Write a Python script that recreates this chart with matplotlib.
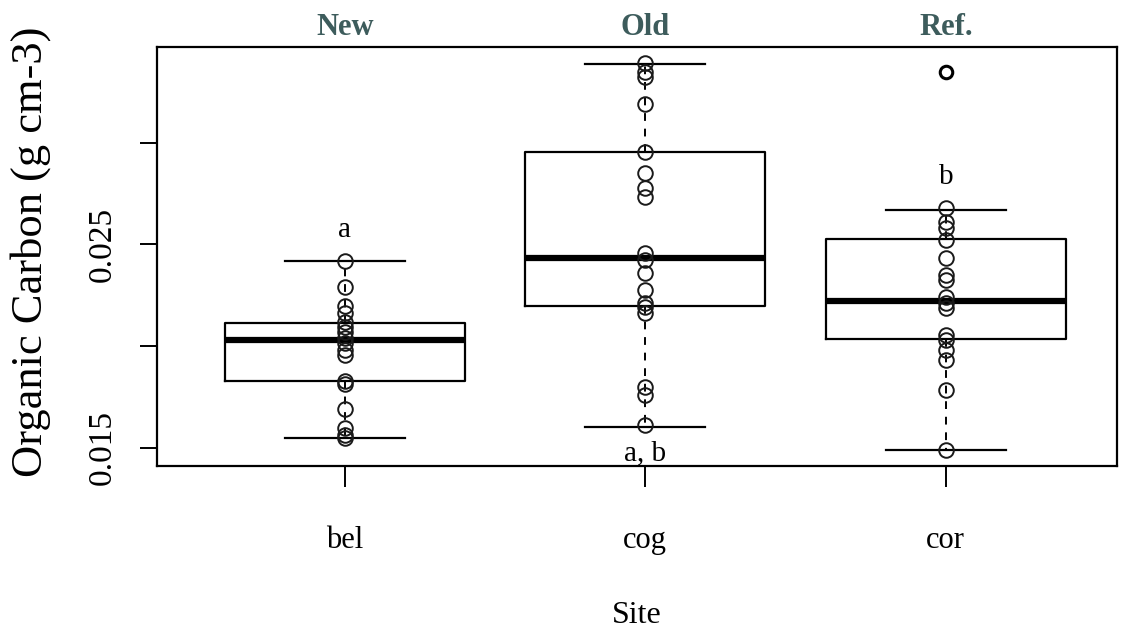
import matplotlib
matplotlib.use("Agg")
import matplotlib.pyplot as plt

plt.rcParams['font.family'] = ['Liberation Serif', 'DejaVu Serif']

# sites and group names
sites = ["bel", "cog", "cor"]
groups = ["New", "Old", "Ref."]
letters = ["a", "a, b", "b"]
letter_y = [0.02572, 0.01475, 0.02832]

# box statistics
whislo = [0.01551, 0.01605, 0.01488]
q1 = [0.01831, 0.02200, 0.02034]
med = [0.02031, 0.02433, 0.02224]
q3 = [0.02113, 0.02954, 0.02526]
whishi = [0.02419, 0.03388, 0.02668]
fliers = [[], [], [0.03350]]

# individual observations
bel_pts = [0.02419, 0.02290, 0.02200, 0.02162, 0.02120, 0.02096, 0.02072,
           0.02040, 0.02015, 0.01980, 0.01957, 0.01831, 0.01815, 0.01690,
           0.01597, 0.01564, 0.01551]
cog_pts = [0.03391, 0.03350, 0.03325, 0.03191, 0.02954, 0.02850, 0.02777,
           0.02735, 0.02457, 0.02424, 0.02359, 0.02277, 0.02211, 0.02195,
           0.02162, 0.01801, 0.01760, 0.01613]
cor_pts = [0.02678, 0.02613, 0.02580, 0.02523, 0.02433, 0.02350, 0.02326,
           0.02244, 0.02211, 0.02187, 0.02056, 0.02031, 0.01982, 0.01933,
           0.01785, 0.01490]
points = [bel_pts, cog_pts, cor_pts]

fig = plt.figure(figsize=(11.23, 6.34), dpi=100)
ax = fig.add_axes([0.1398, 0.265, 0.8549, 0.6611])

stats = []
for i in range(len(sites)):
    stats.append({"whislo": whislo[i], "q1": q1[i], "med": med[i], "q3": q3[i],
                  "whishi": whishi[i], "fliers": fliers[i], "label": sites[i]})

ax.bxp(stats, positions=[1, 2, 3], widths=0.8, showfliers=True,
       boxprops=dict(color="black", linewidth=1.6),
       medianprops=dict(color="black", linewidth=4.5, solid_capstyle="butt"),
       whiskerprops=dict(color="black", linewidth=1.4, linestyle=(0, (4, 4))),
       capprops=dict(color="black", linewidth=1.6),
       capwidths=0.4,
       flierprops=dict(marker="o", markersize=9, markerfacecolor="none",
                       markeredgecolor="black", markeredgewidth=2.2))

for i, pts in enumerate(points):
    ax.plot([i + 1] * len(pts), pts, linestyle="none", marker="o", markersize=10.5,
            markerfacecolor="none", markeredgecolor="#1a1a1a", markeredgewidth=1.4,
            zorder=3)

for i in range(len(sites)):
    ax.text(i + 1, letter_y[i], letters[i], ha="center", va="center", fontsize=21)
    ax.text(i + 1, 1.045, groups[i], transform=ax.get_xaxis_transform(),
            ha="center", va="center", fontsize=22, fontweight="bold", color="#3d5c5c")

ax.set_xlim(0.375, 3.57)
ax.set_ylim(0.014115, 0.034713)

ax.set_yticks([0.015, 0.020, 0.025, 0.030])
ax.set_yticklabels(["0.015", "", "0.025", ""], rotation=90, va="center", fontsize=24)
ax.set_xticks([1, 2, 3])
ax.set_xticklabels(sites, fontsize=22)
ax.tick_params(axis="x", length=15, width=1.4, pad=28)
ax.tick_params(axis="y", length=12, width=1.4, pad=16)

ax.set_xlabel("Site", fontsize=23, labelpad=33)
ax.set_ylabel("Organic Carbon (g cm-3)", fontsize=32)
ax.yaxis.set_label_coords(-0.11, 0.51)

for s in ax.spines.values():
    s.set_linewidth(1.6)

fig.savefig("out.png", dpi=100)
